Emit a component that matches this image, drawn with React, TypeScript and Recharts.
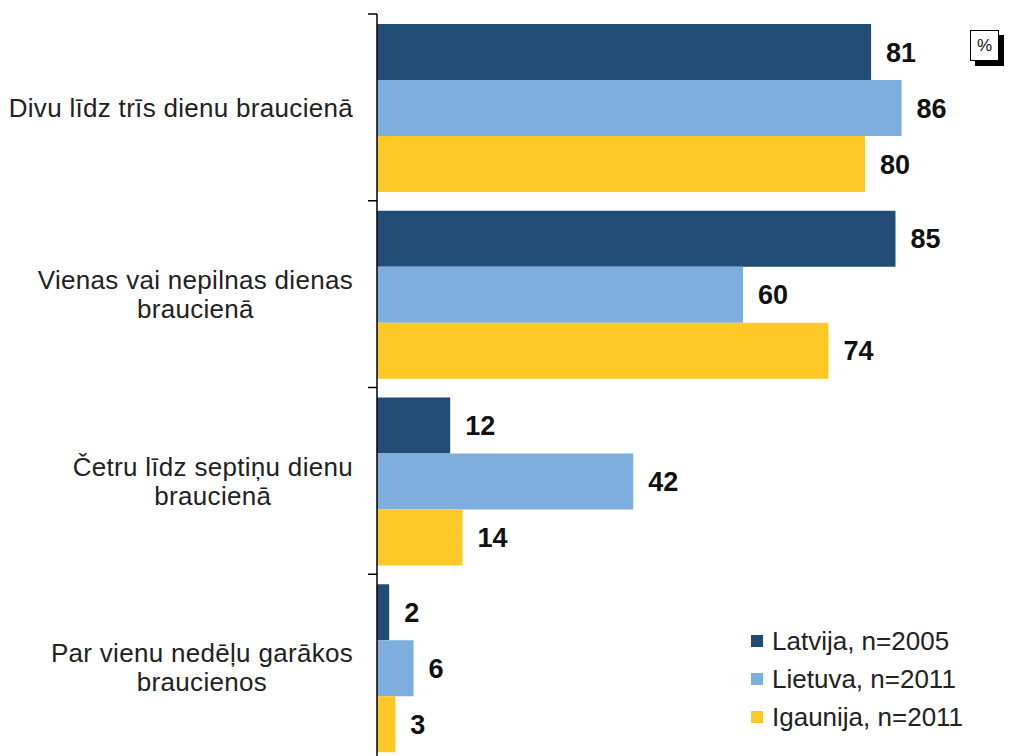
import React from 'react';
import { BarChart, Bar, XAxis, YAxis, LabelList } from 'recharts';

const categories = [
  'Divu līdz trīs dienu braucienā',
  'Vienas vai nepilnas dienas braucienā',
  'Četru līdz septiņu dienu braucienā',
  'Par vienu nedēļu garākos braucienos',
];
// how each category label is broken into lines
const categoryLines = [
  ['Divu līdz trīs dienu braucienā'],
  ['Vienas vai nepilnas dienas', 'braucienā'],
  ['Četru līdz septiņu dienu', 'braucienā'],
  ['Par vienu nedēļu garākos', 'braucienos'],
];
const latvija = [81, 85, 12, 2];
const lietuva = [86, 60, 42, 6];
const igaunija = [80, 74, 14, 3];

const seriesNames = ['Latvija, n=2005', 'Lietuva, n=2011', 'Igaunija, n=2011'];
const seriesKeys = ['latvija', 'lietuva', 'igaunija'];
const colors = ['#214C76', '#7EAEDD', '#FEC826'];

const W = 1013;
const H = 770;
const M = { top: 14, right: 26, bottom: 9, left: 0 };
const AXIS_X = 377;
const BAND = (H - M.top - M.bottom) / categories.length;
const FONT = '"Liberation Sans", Arial, sans-serif';
const LABEL_SIZE = 26;
const SPACING = 0.3;
const LINE_H = 29;

const data = categories.map((name, i) => ({
  name,
  latvija: latvija[i],
  lietuva: lietuva[i],
  igaunija: igaunija[i],
}));

let ctx: CanvasRenderingContext2D | null = null;
const measure = (s: string) => {
  if (!ctx) {
    ctx = document.createElement('canvas').getContext('2d');
    if (ctx) ctx.font = `${LABEL_SIZE}px "Liberation Sans"`;
  }
  const w = ctx ? ctx.measureText(s).width : s.length * 11;
  return w + s.length * SPACING;
};

const CategoryTick = (props: any) => {
  const { y, payload, index } = props;
  const idx = categories.indexOf(payload.value);
  const lines = categoryLines[idx >= 0 ? idx : index] || [payload.value];
  const maxW = Math.max(...lines.map(measure));
  const cx = AXIS_X - 24 - maxW / 2;
  const n = lines.length;
  return (
    <g>
      <line x1={AXIS_X - 9} x2={AXIS_X} y1={y - BAND / 2} y2={y - BAND / 2} stroke="#000" strokeWidth={1.5} />
      {index === categories.length - 1 && (
        <line x1={AXIS_X - 9} x2={AXIS_X} y1={y + BAND / 2} y2={y + BAND / 2} stroke="#000" strokeWidth={1.5} />
      )}
      {lines.map((l, i) => (
        <text
          key={i}
          x={cx}
          y={y + (i - (n - 1) / 2) * LINE_H}
          dy="0.36em"
          textAnchor="middle"
          fontSize={LABEL_SIZE}
          letterSpacing={SPACING}
          fill="#222"
          fontFamily={FONT}
        >
          {l}
        </text>
      ))}
    </g>
  );
};

const LegendBox = () => (
  <div style={{ position: 'absolute', left: 751, top: 622, fontFamily: FONT, fontSize: 26, color: '#222' }}>
    {seriesNames.map((s, i) => (
      <div key={s} style={{ display: 'flex', alignItems: 'center', height: 38 }}>
        <span style={{ width: 12, height: 12, background: colors[i], marginRight: 9, display: 'inline-block' }} />
        <span>{s}</span>
      </div>
    ))}
  </div>
);

export default function App() {
  return (
    <div style={{ position: 'absolute', left: 0, top: 0, width: W, height: 756, overflow: 'hidden', background: '#fff' }}>
      <BarChart
        width={W}
        height={H}
        data={data}
        layout="vertical"
        margin={M}
        barCategoryGap={10}
        barGap={0}
      >
        <XAxis type="number" domain={[0, 100]} hide />
        <YAxis
          type="category"
          dataKey="name"
          width={AXIS_X}
          axisLine={{ stroke: '#000', strokeWidth: 1.5 }}
          tickLine={false}
          tick={<CategoryTick />}
          interval={0}
        />
        {seriesKeys.map((k, i) => (
          <Bar key={k} dataKey={k} name={seriesNames[i]} fill={colors[i]} isAnimationActive={false}>
            <LabelList
              dataKey={k}
              position="right"
              offset={15}
              fill="#111"
              fontSize={27}
              fontWeight="bold"
              fontFamily={FONT}
            />
          </Bar>
        ))}
      </BarChart>
      <LegendBox />
      <div
        style={{
          position: 'absolute',
          left: 970,
          top: 30,
          width: 27,
          height: 29,
          border: '1px solid #000',
          background: '#fff',
          boxShadow: '5px 5px 0 #000',
          fontFamily: FONT,
          fontSize: 17,
          lineHeight: '29px',
          textAlign: 'center',
          color: '#111',
        }}
      >
        %
      </div>
    </div>
  );
}
